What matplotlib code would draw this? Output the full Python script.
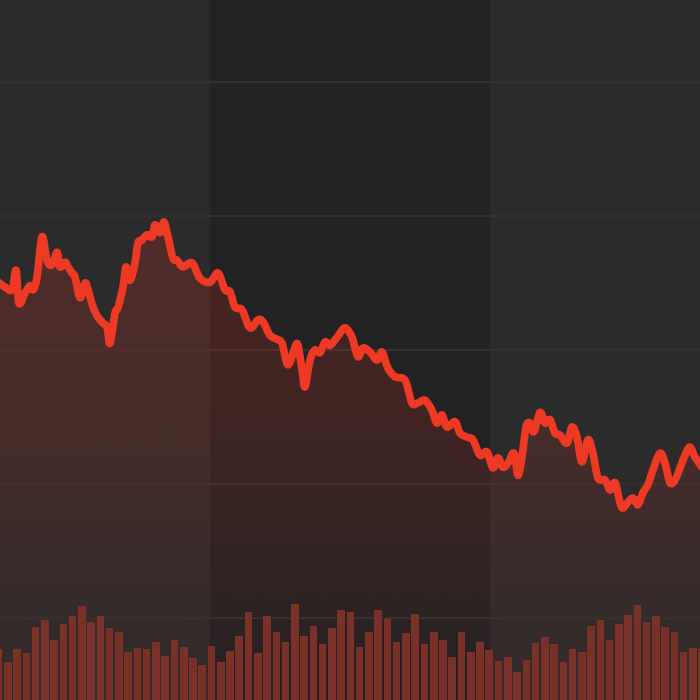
import numpy as np
import matplotlib
matplotlib.use("Agg")
import matplotlib.pyplot as plt
from matplotlib.colors import to_rgb
from matplotlib.path import Path
from matplotlib.patches import PathPatch

# ---- data -------------------------------------------------------------
# line: time (in trading-day units) and price
line_t = [0.00, 0.70, 1.46, 1.89, 2.21, 2.86, 3.40, 3.73, 4.16, 4.70,
          5.24, 5.78, 6.32, 6.64, 7.18, 7.51, 7.94, 8.26, 8.80, 9.34,
          9.67, 10.21, 10.75, 11.29, 11.72, 12.04, 12.58, 12.90, 13.44, 13.77,
          14.20, 14.74, 15.06, 15.50, 16.04, 16.58, 16.90, 17.44, 17.87, 18.30,
          18.84, 19.28, 19.92, 20.90, 21.76, 22.84, 23.70, 24.46, 25.00, 25.54,
          26.30, 27.16, 28.02, 28.56, 29.32, 30.08, 30.62, 31.26, 32.02, 32.34,
          32.78, 33.10, 33.64, 34.18, 34.72, 35.26, 35.80, 36.56, 37.42, 38.17,
          38.82, 39.36, 40.12, 40.88, 41.41, 42.06, 42.82, 43.90, 44.65, 45.30,
          46.06, 46.81, 47.35, 47.89, 48.43, 49.30, 49.84, 50.59, 51.24, 52.00,
          52.75, 53.40, 53.94, 54.48, 55.02, 55.67, 56.10, 56.53, 56.97, 57.40,
          57.83, 58.48, 59.02, 59.56, 60.10, 60.64, 61.39, 61.93, 62.47, 63.01,
          63.66, 64.20, 64.74, 65.50, 66.04, 66.58, 67.12, 67.44, 67.98, 68.52,
          69.06, 69.60, 70.14, 70.68, 71.44, 71.98, 72.52, 73.06, 73.60, 74.14,
          74.68, 75.22, 76.00]
line_price = [170.1, 169.4, 169.0, 171.9, 167.0, 168.5, 169.6, 169.0, 170.9, 176.9,
              173.4, 172.7, 174.6, 172.4, 173.1, 172.4, 171.5, 170.9, 167.8, 170.0,
              169.0, 166.4, 164.9, 164.0, 163.4, 161.0, 165.5, 166.3, 169.4, 172.4,
              170.4, 173.0, 176.0, 176.4, 177.2, 176.9, 178.7, 177.5, 179.1, 176.9,
              173.7, 173.4, 172.4, 173.0, 170.7, 170.1, 171.5, 169.0, 168.7, 166.4,
              166.0, 163.3, 164.5, 164.2, 162.2, 161.6, 161.0, 157.8, 160.4, 160.7,
              157.0, 154.5, 158.5, 160.0, 159.6, 161.2, 160.7, 161.9, 163.3, 161.9,
              159.0, 160.3, 159.7, 158.5, 159.7, 157.3, 156.0, 155.5, 152.1, 152.1,
              152.5, 151.0, 149.1, 150.3, 148.5, 149.3, 147.6, 147.0, 146.6, 144.3,
              144.8, 142.4, 143.9, 142.5, 143.1, 144.6, 141.3, 144.0, 148.5, 149.1,
              147.8, 150.7, 149.1, 149.6, 147.6, 147.3, 146.1, 148.5, 147.0, 143.3,
              146.6, 144.6, 140.9, 140.6, 139.1, 140.2, 137.2, 136.4, 137.3, 137.9,
              136.9, 138.7, 139.9, 142.1, 144.6, 143.1, 140.2, 140.6, 142.4, 144.3,
              145.5, 144.0, 142.5]

# volume per day (millions)
volume = [25.5, 19.0, 25.5, 23.5, 36.5, 40.0, 30.0, 38.0, 42.0, 47.0,
          39.0, 42.0, 36.0, 34.0, 24.0, 26.0, 25.5, 29.0, 22.0, 30.0,
          26.5, 21.0, 17.5, 27.0, 19.0, 24.5, 32.0, 44.0, 23.5, 42.0,
          34.0, 29.0, 48.0, 32.0, 37.0, 28.0, 36.0, 45.0, 44.0, 26.5,
          34.0, 45.0, 40.5, 29.0, 33.5, 43.0, 28.0, 34.0, 30.0, 21.5,
          34.0, 24.0, 29.0, 25.0, 19.5, 21.5, 14.0, 20.0, 28.5, 31.5,
          28.0, 19.0, 25.5, 24.0, 37.0, 40.0, 30.0, 38.0, 42.5, 47.5,
          39.0, 42.0, 36.5, 34.0, 24.0, 26.0, 25.5]
bar_day = np.arange(len(volume))

grid_levels = [120, 140, 160, 180, 200]
band_start, band_end = 22.84, 53.08

# ---- style ------------------------------------------------------------
BG = "#2b2b2b"
BAND = "#222222"
GRID = "#313131"
LINE = "#ee3a24"
BAR = "#7a3228"

XLIM = (0.16, 75.76)
YLIM = (107.76, 212.24)


def smooth_path(x, y, base=None):
    """Catmull-Rom curve through the data points, as cubic Bezier segments."""
    p = np.column_stack([x, y]).astype(float)
    ext = np.vstack([p[0], p, p[-1]])
    verts = [p[0]]
    codes = [Path.MOVETO]
    for i in range(len(p) - 1):
        p0, p1, p2, p3 = ext[i], ext[i + 1], ext[i + 2], ext[i + 3]
        c1 = p1 + (p2 - p0) / 6.0
        c2 = p2 - (p3 - p1) / 6.0
        verts += [c1, c2, p2]
        codes += [Path.CURVE4] * 3
    if base is not None:
        verts += [(p[-1, 0], base), (p[0, 0], base), p[0]]
        codes += [Path.LINETO, Path.LINETO, Path.CLOSEPOLY]
    return Path(np.array(verts), codes)


fig = plt.figure(figsize=(7, 7), dpi=100, facecolor=BG)
ax = fig.add_axes([0, 0, 1, 1])
ax.set_facecolor(BG)
for s in ax.spines.values():
    s.set_visible(False)
ax.set_xticks([])
ax.set_yticks([])

ax.axvspan(band_start, band_end, color=BAND, lw=0, zorder=0)
for g in grid_levels:
    ax.axhline(g, color=GRID, lw=1.4, zorder=0.5)

# vertical gradient under the line, clipped to the area below the curve
area = smooth_path(line_t, line_price, base=YLIM[0])
ny = 300
frac = np.linspace(0, 1, ny)           # 0 bottom -> 1 top
pix_from_top = 700 * (1 - frac)
alpha = np.interp(pix_from_top, [200, 450, 620, 700], [0.22, 0.15, 0.05, 0.04])
rgba = np.zeros((ny, 1, 4))
rgba[..., :3] = to_rgb("#dc3223")
rgba[:, 0, 3] = alpha
im = ax.imshow(rgba, extent=[XLIM[0], XLIM[1], YLIM[0], YLIM[1]],
               origin="lower", aspect="auto", zorder=1,
               interpolation="bilinear")
im.set_clip_path(area, transform=ax.transData)

curve = PathPatch(smooth_path(line_t, line_price), facecolor="none",
                  edgecolor=LINE, lw=5.5, joinstyle="round", capstyle="round",
                  zorder=3)
ax.add_patch(curve)

ax.set_xlim(*XLIM)
ax.set_ylim(*YLIM)

axv = ax.twinx()
axv.bar(bar_day, volume, width=0.82, color=BAR, lw=0, zorder=2)
axv.set_ylim(0, 350)
axv.set_xlim(*XLIM)
axv.set_axis_off()

fig.savefig("out.png", dpi=100, facecolor=BG)
